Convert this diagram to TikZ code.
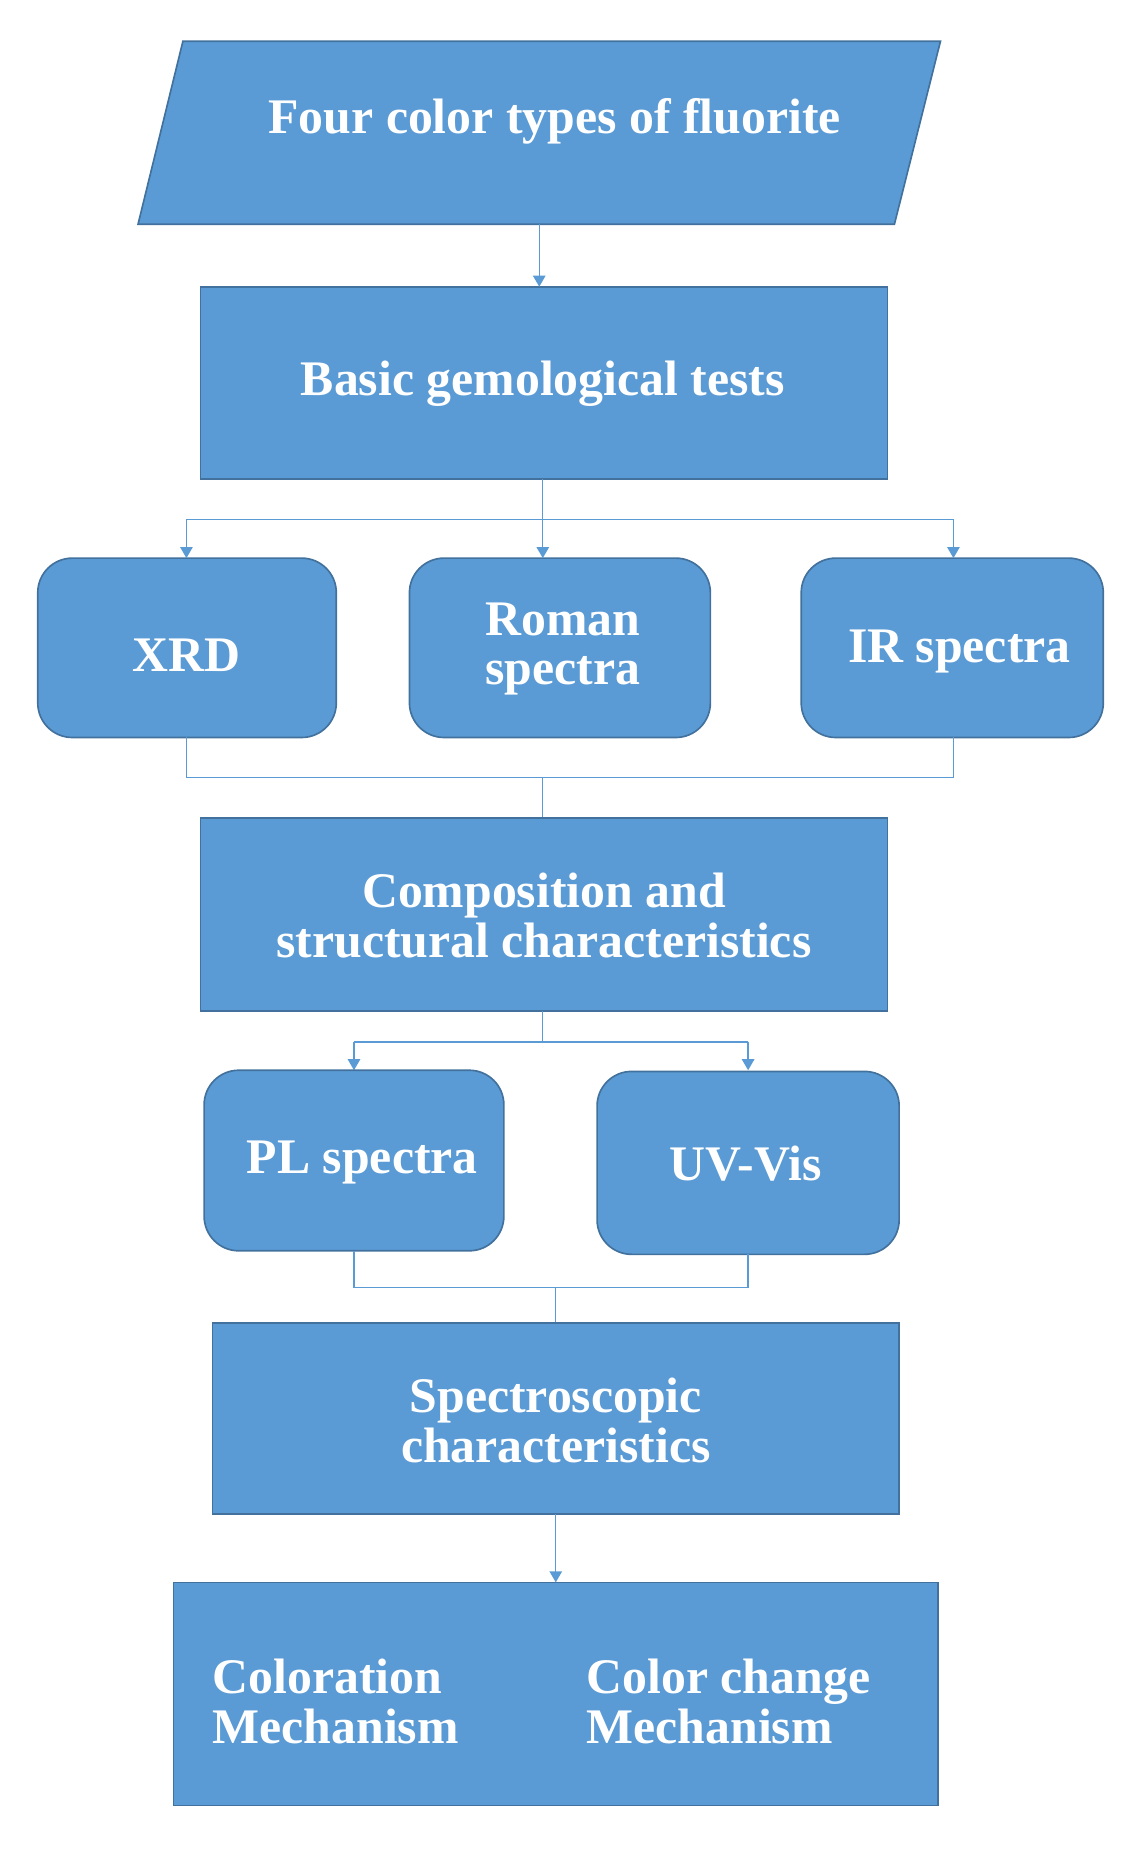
\documentclass[tikz,border=0pt]{standalone}
\usepackage{fontspec}
\setmainfont{Liberation Serif}
\usetikzlibrary{arrows.meta}
\definecolor{fillb}{HTML}{5B9BD5}
\definecolor{edgeb}{HTML}{41719C}
\begin{document}
\begin{tikzpicture}[x=0.03cm,y=-0.03cm,
  box/.style={fill=fillb,draw=edgeb,line width=1.2pt},
  txt/.style={text=white,font=\fontsize{36}{40}\selectfont\bfseries,align=center,inner sep=0pt},
  conn/.style={draw=fillb,line width=1pt},
  arr/.style={conn,-{Triangle[width=9pt,length=8pt]}}]
\useasboundingbox (0,0) rectangle (970,1574.6);
% top parallelogram
\draw[box] (155,35) -- (797,35) -- (758,190) -- (117,190) -- cycle;
\node[txt] (t1) at (470,103) {Four color types of fluorite};
\coordinate (p1) at (457,190);
% box2
\draw[box] (170,243) rectangle (752,406);
\node[txt] (t2) at (460,325) {Basic gemological tests};
\coordinate (b2t) at (457,243);
\coordinate (b2b) at (460,406);
\draw[arr] (p1) -- (b2t);
% rounded boxes
\draw[box,rounded corners=25] (32,473) rectangle (285,625);
\node[txt] (xrd) at (158,555) {XRD};
\draw[box,rounded corners=25] (347,473) rectangle (602,625);
\node[txt] (rom) at (477,550) {Roman\\[-4pt]spectra};
\draw[box,rounded corners=25] (679,473) rectangle (935,625);
\node[txt] (ir) at (813,552) {IR spectra};
\coordinate (br1) at (460,440);
\coordinate (xa) at (158,440); \coordinate (xb) at (158,473);
\coordinate (ra) at (460,473);
\coordinate (ia) at (808,440); \coordinate (ib) at (808,473);
\draw[conn] (b2b) -- (br1);
\draw[conn] (xa) -- (ia);
\draw[arr] (xa) -- (xb);
\draw[arr] (br1) -- (ra);
\draw[arr] (ia) -- (ib);
% join
\coordinate (xj) at (158,625); \coordinate (ij) at (808,625);
\coordinate (xj2) at (158,659); \coordinate (ij2) at (808,659);
\coordinate (cj) at (460,659); \coordinate (b3t) at (460,693);
\draw[conn] (xj) -- (xj2) -- (ij2) -- (ij);
\draw[conn] (cj) -- (b3t);
% box3
\draw[box] (170,693) rectangle (752,857);
\node[txt] (t3) at (461,776) {Composition and\\[-4pt]structural characteristics};
\coordinate (b3b) at (460,857); \coordinate (br2) at (460,883);
\coordinate (pa) at (300,883); \coordinate (pb) at (300,907);
\coordinate (ua) at (634,883); \coordinate (ub) at (634,907);
\draw[conn] (b3b) -- (br2);
\draw[conn] (pa) -- (ua);
\draw[arr] (pa) -- (pb);
\draw[arr] (ua) -- (ub);
% PL / UV
\draw[box,rounded corners=25] (173,907) rectangle (427,1060);
\node[txt] (pl) at (307,985) {PL spectra};
\draw[box,rounded corners=25] (506,908) rectangle (762,1063);
\node[txt] (uv) at (632,986) {UV-Vis};
\coordinate (pj) at (300,1060); \coordinate (pj2) at (300,1091);
\coordinate (uj) at (634,1063); \coordinate (uj2) at (634,1091);
\coordinate (cj2) at (471,1091); \coordinate (b4t) at (471,1121);
\draw[conn] (pj) -- (pj2) -- (uj2) -- (uj);
\draw[conn] (cj2) -- (b4t);
% box4
\draw[box] (180,1121) rectangle (762,1283);
\node[txt] (t4) at (471,1204) {Spectroscopic\\[-4pt]characteristics};
\coordinate (b4b) at (471,1283); \coordinate (b5t) at (471,1341);
\draw[arr] (b4b) -- (b5t);
% box5
\draw[box] (147,1341) rectangle (795,1530);
\node[txt,align=left,anchor=west] (c1) at (180,1442) {Coloration\\[-4pt]Mechanism};
\node[txt,align=left,anchor=west] (c2) at (497,1442) {Color change\\[-4pt]Mechanism};
\end{tikzpicture}
\end{document}
